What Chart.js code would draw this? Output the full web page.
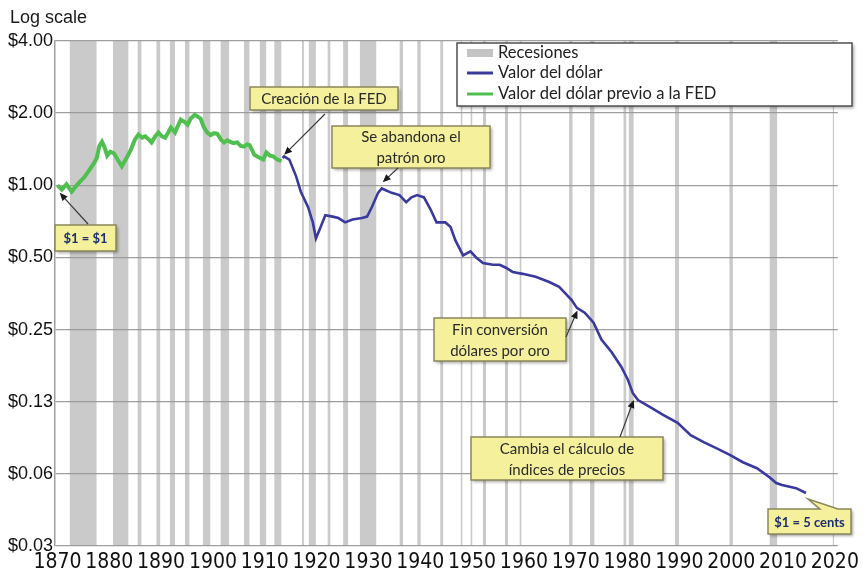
<!DOCTYPE html>
<html><head><meta charset="utf-8">
<script src="https://cdn.jsdelivr.net/npm/chart.js@4.4.0/dist/chart.umd.min.js"></script>
<style>html,body{margin:0;padding:0;background:#fff;}</style>
</head><body>
<canvas id="c" width="863" height="578"></canvas>
<script>
// ---- data ----
const yTickValues = [4, 2, 1, 0.5, 0.25, 0.125, 0.0625, 0.03125];
const yTickLabels = ['$4.00', '$2.00', '$1.00', '$0.50', '$0.25', '$0.13', '$0.06', '$0.03'];
const xTickYears = [1870, 1880, 1890, 1900, 1910, 1920, 1930, 1940, 1950, 1960, 1970, 1980, 1990, 2000, 2010, 2020];

const recessionStart = [1873.8, 1882.1, 1886.8, 1890.4, 1893.0, 1895.9, 1899.3, 1902.7, 1907.2, 1910.2, 1913.0, 1918.3, 1919.6, 1923.2, 1926.2, 1929.4, 1937.0, 1940.4, 1944.8, 1948.7, 1950.6, 1953.0, 1957.2, 1960.0, 1969.5, 1973.5, 1979.9, 1980.9, 1989.8, 2000.2, 2007.9, 2020.0];
const recessionEnd   = [1879.0, 1885.1, 1887.6, 1891.2, 1894.0, 1896.8, 1900.8, 1904.4, 1908.3, 1911.5, 1914.4, 1918.7, 1921.0, 1923.8, 1927.2, 1932.6, 1937.7, 1941.1, 1945.4, 1949.1, 1951.0, 1953.6, 1957.8, 1960.4, 1970.2, 1974.4, 1980.5, 1981.9, 1990.6, 2000.9, 2009.4, 2020.3];

const preFedYears = [1871.5, 1872.3, 1873.2, 1874.2, 1875.0, 1875.7, 1876.6, 1877.6, 1878.5, 1879.0, 1879.5, 1880.0, 1880.5, 1881.0, 1881.6, 1882.3, 1883.0, 1883.8, 1884.7, 1885.5, 1886.3, 1887.0, 1887.7, 1888.3, 1889.0, 1889.5, 1890.2, 1890.8, 1891.5, 1892.1, 1892.7, 1893.2, 1893.6, 1894.0, 1894.6, 1895.1, 1895.8, 1896.4, 1897.0, 1897.8, 1898.4, 1898.9, 1899.5, 1900.2, 1900.8, 1901.5, 1902.1, 1902.8, 1903.4, 1904.0, 1904.5, 1905.2, 1905.9, 1906.6, 1907.2, 1907.8, 1908.3, 1909.2, 1910.0, 1910.9, 1911.5, 1912.2, 1912.8, 1913.6, 1914.4];
const preFedValues = [1.00, 0.96, 1.01, 0.94, 0.99, 1.03, 1.08, 1.16, 1.24, 1.30, 1.46, 1.52, 1.44, 1.33, 1.38, 1.36, 1.28, 1.20, 1.30, 1.40, 1.55, 1.63, 1.58, 1.60, 1.55, 1.51, 1.60, 1.66, 1.60, 1.58, 1.66, 1.74, 1.70, 1.66, 1.78, 1.88, 1.84, 1.79, 1.90, 1.97, 1.93, 1.90, 1.75, 1.66, 1.62, 1.65, 1.64, 1.55, 1.51, 1.54, 1.52, 1.50, 1.51, 1.46, 1.45, 1.48, 1.47, 1.34, 1.31, 1.28, 1.37, 1.33, 1.32, 1.28, 1.26];

const dollarYears = [1914.6, 1914.9, 1915.9, 1917.2, 1918.1, 1919.5, 1920.4, 1921.0, 1921.9, 1922.8, 1924.2, 1925.3, 1926.6, 1928.0, 1929.8, 1930.8, 1931.7, 1932.9, 1933.6, 1935.5, 1937.0, 1938.3, 1939.3, 1940.4, 1941.7, 1943.0, 1944.1, 1945.8, 1946.8, 1947.7, 1949.2, 1950.6, 1951.7, 1953.0, 1954.9, 1956.2, 1957.4, 1958.7, 1960.6, 1963.1, 1965.7, 1967.6, 1968.7, 1970.0, 1971.0, 1972.5, 1974.2, 1975.7, 1977.6, 1979.5, 1980.8, 1981.7, 1982.7, 1985.2, 1987.6, 1990.3, 1992.8, 1995.3, 1997.7, 2000.4, 2002.8, 2005.5, 2007.9, 2009.2, 2010.3, 2013.0, 2014.9];
const dollarValues = [1.30, 1.32, 1.28, 1.09, 0.94, 0.81, 0.70, 0.60, 0.67, 0.75, 0.74, 0.73, 0.70, 0.72, 0.73, 0.74, 0.81, 0.93, 0.97, 0.93, 0.91, 0.85, 0.89, 0.91, 0.89, 0.79, 0.70, 0.70, 0.67, 0.59, 0.51, 0.53, 0.50, 0.474, 0.466, 0.466, 0.453, 0.435, 0.427, 0.415, 0.395, 0.377, 0.356, 0.332, 0.308, 0.294, 0.267, 0.227, 0.202, 0.175, 0.154, 0.136, 0.127, 0.118, 0.110, 0.102, 0.0907, 0.0848, 0.080, 0.0748, 0.0699, 0.066, 0.0605, 0.0572, 0.0561, 0.0545, 0.052];

const seriesNames = ['Recesiones', 'Valor del dólar', 'Valor del dólar previo a la FED'];

// annotations: text lines, box (px layout), arrow start (px), arrow tip in data units
const notes = [
  { lines: ['Creación de la FED'], box: [250, 87, 148, 23], from: [325, 114], tip: [1914.9, 1.34] },
  { lines: ['Se abandona el', 'patrón oro'], box: [332, 126, 158, 42], from: [398, 168], tip: [1933.8, 1.03] },
  { lines: ['$1 = $1'], box: [55, 225, 61, 26], from: [88, 224], tip: [1871.9, 0.93], bold: true },
  { lines: ['Fin conversión', 'dólares por oro'], box: [434, 318, 132, 43], from: [566, 337], tip: [1971.1, 0.30] },
  { lines: ['Cambia el cálculo de', 'índices de precios'], box: [471, 437, 192, 43], from: [620, 437], tip: [1981.9, 0.127] }
];
const calloutNote = { lines: ['$1 = 5 cents'], box: [768, 509, 83, 25], tip: [2014.9, 0.05] };

// ---- build datasets ----
const YTOP = yTickValues[0];
const recessionData = [];
recessionStart.forEach((s, i) => {
  recessionData.push({ x: s, y: YTOP }, { x: recessionEnd[i], y: YTOP }, { x: recessionEnd[i], y: null });
});
const pts = (xs, ys) => xs.map((x, i) => ({ x, y: ys[i] }));

const NAVY = '#3a3a9e', GREEN = '#4fbf4f', BAND = 'rgba(150,150,150,0.5)';
const CONDENSED = "'Liberation Sans Narrow', 'DejaVu Sans Condensed', 'Liberation Sans', sans-serif";
const UI = "Lato, 'Open Sans', 'Liberation Sans', sans-serif";

function roundRectBox(ctx, x, y, w, h, fill, stroke) {
  ctx.save();
  ctx.shadowColor = 'rgba(0,0,0,0.35)';
  ctx.shadowBlur = 3; ctx.shadowOffsetX = 2; ctx.shadowOffsetY = 2;
  ctx.fillStyle = fill;
  ctx.fillRect(x, y, w, h);
  ctx.restore();
  ctx.save();
  ctx.strokeStyle = stroke; ctx.lineWidth = 1.5;
  ctx.strokeRect(x, y, w, h);
  ctx.restore();
}
function arrow(ctx, x1, y1, x2, y2) {
  const a = Math.atan2(y2 - y1, x2 - x1), L = 8, W = 3.5;
  ctx.save();
  ctx.strokeStyle = '#3a3a3a'; ctx.fillStyle = '#1a1a1a'; ctx.lineWidth = 1.2;
  ctx.beginPath(); ctx.moveTo(x1, y1);
  ctx.lineTo(x2 - Math.cos(a) * L * 0.8, y2 - Math.sin(a) * L * 0.8); ctx.stroke();
  ctx.beginPath(); ctx.moveTo(x2, y2);
  ctx.lineTo(x2 - Math.cos(a) * L - Math.sin(a) * W, y2 - Math.sin(a) * L + Math.cos(a) * W);
  ctx.lineTo(x2 - Math.cos(a) * L + Math.sin(a) * W, y2 - Math.sin(a) * L - Math.cos(a) * W);
  ctx.closePath(); ctx.fill();
  ctx.restore();
}

const decor = {
  id: 'decor',
  beforeDraw(chart) {
    const ctx = chart.ctx;
    ctx.save(); ctx.fillStyle = '#ffffff'; ctx.fillRect(0, 0, chart.width, chart.height); ctx.restore();
  },
  afterDraw(chart) {
    const ctx = chart.ctx, xs = chart.scales.x, ys = chart.scales.y;
    // title
    ctx.save();
    ctx.fillStyle = '#1a1a1a'; ctx.font = "18px 'Liberation Sans', Arial, sans-serif";
    ctx.textBaseline = 'alphabetic'; ctx.textAlign = 'left';
    ctx.fillText('Log scale', 10, 23);
    ctx.restore();

    // legend
    roundRectBox(ctx, 457, 43, 395, 63, '#ffffff', '#505050');
    ctx.save();
    ctx.font = '16.5px ' + UI; ctx.fillStyle = '#222'; ctx.textBaseline = 'middle'; ctx.textAlign = 'left';
    const rows = [53, 73, 94];
    ctx.fillStyle = '#c4c4c4'; ctx.fillRect(467, rows[0] - 4, 26, 8);
    ctx.lineWidth = 3; ctx.lineCap = 'butt';
    ctx.strokeStyle = NAVY; ctx.beginPath(); ctx.moveTo(467, rows[1]); ctx.lineTo(493, rows[1]); ctx.stroke();
    ctx.strokeStyle = GREEN; ctx.beginPath(); ctx.moveTo(467, rows[2]); ctx.lineTo(493, rows[2]); ctx.stroke();
    ctx.fillStyle = '#222';
    seriesNames.forEach((n, i) => ctx.fillText(n, 498, rows[i]));
    ctx.restore();

    // annotations
    const drawText = (n) => {
      const [bx, by, bw, bh] = n.box;
      ctx.save();
      ctx.textAlign = 'center'; ctx.textBaseline = 'middle';
      ctx.font = (n.bold ? 'bold 13px ' : '15px ') + UI;
      ctx.fillStyle = n.bold ? '#1f2f6e' : '#2a2a2a';
      const lh = 21, cy = by + bh / 2 - (n.lines.length - 1) * lh / 2;
      n.lines.forEach((t, i) => ctx.fillText(t, bx + bw / 2, cy + i * lh + 1));
      ctx.restore();
    };
    notes.forEach(n => {
      const [bx, by, bw, bh] = n.box;
      roundRectBox(ctx, bx, by, bw, bh, '#f4f09c', '#8a875a');
      drawText(n);
      arrow(ctx, n.from[0], n.from[1], xs.getPixelForValue(n.tip[0]), ys.getPixelForValue(n.tip[1]));
    });

    // callout with tail
    const c = calloutNote, [bx, by, bw, bh] = c.box;
    const tx = xs.getPixelForValue(c.tip[0]) + 2, ty = ys.getPixelForValue(c.tip[1]) + 2;
    ctx.save();
    ctx.beginPath();
    ctx.moveTo(bx, by); ctx.lineTo(bx + 52, by); ctx.lineTo(tx, ty); ctx.lineTo(bx + 70, by);
    ctx.lineTo(bx + bw, by); ctx.lineTo(bx + bw, by + bh); ctx.lineTo(bx, by + bh); ctx.closePath();
    ctx.shadowColor = 'rgba(0,0,0,0.35)'; ctx.shadowBlur = 3; ctx.shadowOffsetX = 2; ctx.shadowOffsetY = 2;
    ctx.fillStyle = '#f4f09c'; ctx.fill();
    ctx.shadowColor = 'transparent';
    ctx.strokeStyle = '#8a875a'; ctx.lineWidth = 1.5; ctx.stroke();
    ctx.restore();
    drawText(Object.assign({ bold: true }, c));
  }
};

new Chart(document.getElementById('c'), {
  type: 'line',
  data: {
    datasets: [
      { label: seriesNames[0], data: recessionData, xAxisID: 'x', yAxisID: 'y', fill: 'start', backgroundColor: BAND, borderWidth: 0, pointRadius: 0, spanGaps: false, order: 3 },
      { label: seriesNames[1], data: pts(dollarYears, dollarValues), xAxisID: 'x', yAxisID: 'y', borderColor: NAVY, borderWidth: 2.6, pointRadius: 0, tension: 0, fill: false, order: 1 },
      { label: seriesNames[2], data: pts(preFedYears, preFedValues), xAxisID: 'x', yAxisID: 'y', borderColor: GREEN, borderWidth: 4, pointRadius: 0, tension: 0, fill: false, order: 2 }
    ]
  },
  options: {
    responsive: false, animation: false, devicePixelRatio: 1,
    layout: { padding: { top: 41, right: 12, left: 0, bottom: 0 }, autoPadding: false },
    plugins: { legend: { display: false }, tooltip: { enabled: false }, title: { display: false } },
    scales: {
      x: { type: 'linear', min: 1871, max: 2021, display: false },
      xl: {
        type: 'linear', position: 'bottom', min: 1869.53, max: 2020.57,
        afterBuildTicks: s => { s.ticks = xTickYears.map(v => ({ value: v })); },
        afterFit: s => { s.height = 32; },
        grid: { display: false, drawTicks: false }, border: { display: false },
        ticks: { autoSkip: false, maxRotation: 0, padding: 4, color: '#111', font: { family: CONDENSED, size: 21 }, callback: v => String(v) }
      },
      y: {
        type: 'logarithmic', min: 0.03125, max: 4,
        afterBuildTicks: s => { s.ticks = yTickValues.map(v => ({ value: v })); },
        afterFit: s => { s.width = 55; },
        grid: { color: '#a39e9e', lineWidth: 1.3, drawTicks: false },
        border: { display: true, color: '#a0a0a0', width: 1.5 },
        ticks: {
          padding: 2, color: '#111', font: { family: "'Liberation Sans', Arial, sans-serif", size: 18 },
          callback: v => { const i = yTickValues.findIndex(t => Math.abs(t - v) < 1e-9); return i >= 0 ? yTickLabels[i] : ''; }
        }
      }
    }
  },
  plugins: [decor]
});
</script>
</body></html>
